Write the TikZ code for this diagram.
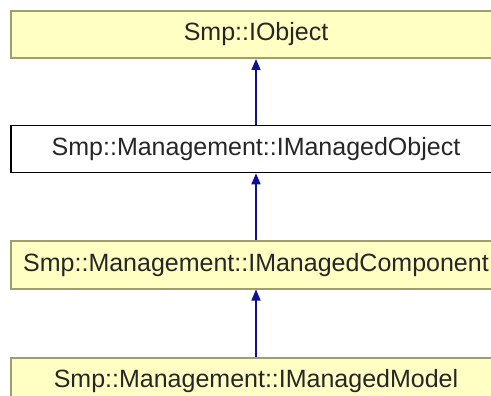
\documentclass[tikz,border=0pt]{standalone}
\usepackage{fontspec}
\setmainfont{Liberation Sans}
\usetikzlibrary{arrows.meta}
\definecolor{clsfill}{RGB}{255,255,196}
\definecolor{clsline}{RGB}{158,158,112}
\definecolor{inherit}{RGB}{16,16,150}
\tikzset{
  cls/.style={rectangle, draw=clsline, fill=clsfill, line width=2pt,
    minimum width=490pt, minimum height=47pt, inner sep=0pt,
    font=\fontsize{25pt}{30pt}\selectfont, text=black!85},
  focus/.style={cls, draw=black, fill=white, line width=1.6pt},
  isa/.style={draw=inherit, line width=1.5pt,
    -{Triangle[length=11pt,width=9pt]}}
}
\begin{document}
\begin{tikzpicture}[x=1pt,y=1pt]
  \fill[white] (0,0) rectangle (491,-396);
  \clip (0,0) rectangle (491,-396);
  \useasboundingbox (0,0) rectangle (491,-396);
  \node[cls]   (obj)  at (256,-34.5) {Smp::IObject};
  \node[focus] (mobj) at (256,-149)  {Smp::Management::IManagedObject};
  \node[cls]   (mcmp) at (256,-265)  {Smp::Management::IManagedComponent};
  \node[cls]   (mmod) at (256,-381)  {Smp::Management::IManagedModel};
  \draw[isa] (mobj.north) -- (obj.south);
  \draw[isa] (mcmp.north) -- (mobj.south);
  \draw[isa] (mmod.north) -- (mcmp.south);
\end{tikzpicture}
\end{document}
